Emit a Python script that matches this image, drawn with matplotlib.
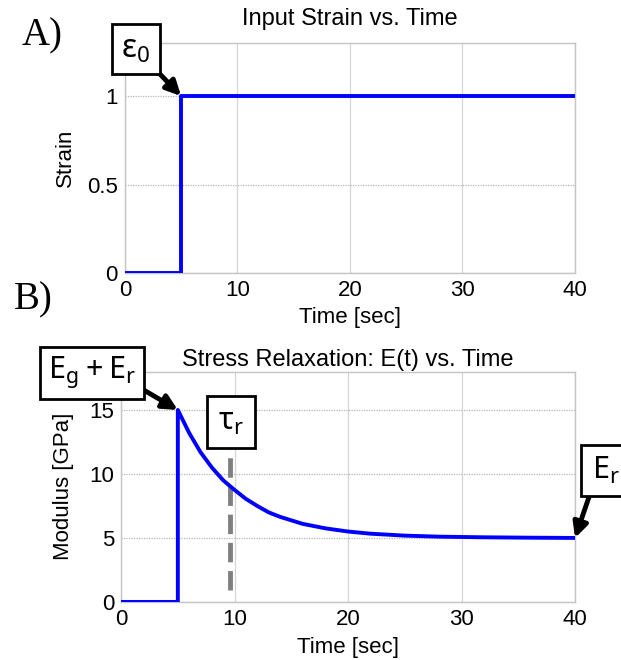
import numpy as np
import matplotlib
matplotlib.use('Agg')
import matplotlib.pyplot as plt
from matplotlib.patches import Rectangle

# input strain step
strain_time = [0, 5, 5, 40]
strain_vals = [0, 0, 1, 1]

# stress relaxation curve
mod_time = [0, 5, 5, 6, 7, 8, 9, 10, 11, 12, 13, 14, 16, 18, 20, 22, 25, 28, 32, 36, 40]
mod_vals = [0, 0, 15.0, 13.2, 11.7, 10.5, 9.5, 8.75, 8.05, 7.5, 7.0, 6.65, 6.1, 5.75, 5.5, 5.33, 5.18, 5.1, 5.05, 5.02, 5.0]

tau_x = 9.6
tau_span = [0.9, 12.0]

x_ticks = [0, 10, 20, 30, 40]
strain_ticks = [0, 0.5, 1]
mod_ticks = [0, 5, 10, 15]

plt.rcParams['font.family'] = ['Liberation Sans', 'DejaVu Sans']
FS = 16
BOX_FONT = ['Noto Sans', 'DejaVu Sans']
W, H = 621, 660


def style_axes(ax, yticks, ylim):
    ax.set_xlim(0, 40)
    ax.set_ylim(*ylim)
    ax.set_xticks(x_ticks)
    ax.set_yticks(yticks)
    ax.set_yticklabels([('%g' % v) for v in yticks])
    ax.tick_params(length=0, labelsize=FS, pad=5)
    ax.grid(axis='x', color='#d6d6d6', lw=0.9, ls='-')
    ax.grid(axis='y', color='#b8b8b8', lw=0.9, ls=(0, (1, 1)))
    ax.set_axisbelow(True)
    for s in ax.spines.values():
        s.set_color('#c4c4c4')
        s.set_linewidth(1.0)


def label_box(text, x0, y0, x1, y1, size):
    # box given in picture pixels, origin top-left
    fx, fy = x0 / W, 1 - y1 / H
    fig.add_artist(Rectangle((fx, fy), (x1 - x0) / W, (y1 - y0) / H,
                             transform=fig.transFigure, fc='white', ec='black',
                             lw=2, zorder=10, clip_on=False))
    fig.text((x0 + x1) / 2 / W, 1 - (y0 + y1) / 2 / H, text, ha='center',
             va='center', fontsize=size, family=BOX_FONT, zorder=11)


def arrow(ax, xy, start):
    ax.annotate('', xy=xy, xycoords='data',
                xytext=(start[0] / W, 1 - start[1] / H), textcoords='figure fraction',
                arrowprops=dict(arrowstyle='-|>', color='k', lw=3.5, mutation_scale=22,
                                shrinkA=0, shrinkB=0),
                annotation_clip=False, zorder=9)


fig = plt.figure(figsize=(W / 100, H / 100), dpi=100)

# panel A
ax1 = fig.add_axes([0.201, 0.586, 0.725, 0.349])
ax1.plot(strain_time, strain_vals, color='#0000ff', lw=2.8, zorder=3)
style_axes(ax1, strain_ticks, (0, 1.3))
ax1.set_title('Input Strain vs. Time', fontsize=17, pad=13)
ax1.set_xlabel('Time [sec]', fontsize=FS, labelpad=4)
ax1.set_ylabel('Strain', fontsize=FS, labelpad=8)
arrow(ax1, (5, 1), (157, 71))
label_box(r'$\mathregular{ε_0}$', 112, 24, 160, 74, 23)

# panel B
ax2 = fig.add_axes([0.195, 0.088, 0.731, 0.349])
ax2.plot(mod_time, mod_vals, color='#0000ff', lw=2.8, zorder=3)
ax2.plot([tau_x, tau_x], tau_span, color='#808080', lw=3.5, ls=(0, (4, 1.8)), zorder=2)
style_axes(ax2, mod_ticks, (0, 18))
ax2.set_title('Stress Relaxation: E(t) vs. Time', fontsize=17, pad=4)
ax2.set_xlabel('Time [sec]', fontsize=FS, labelpad=5)
ax2.set_ylabel('Modulus [GPa]', fontsize=FS, labelpad=11)
arrow(ax2, (5, 15), (142, 389))
label_box(r'$\mathregular{E_g + E_r}$', 40, 347, 144, 399, 22)
label_box(r'$\mathregular{τ_r}$', 207, 396, 255, 448, 22)
arrow(ax2, (40, 5), (590, 494))
label_box(r'$\mathregular{E_r}$', 581, 445, 630, 496, 22)

fig.text(0.035, 0.945, 'A)', family='Liberation Serif', fontsize=28, va='center')
fig.text(0.022, 0.545, 'B)', family='Liberation Serif', fontsize=28, va='center')

fig.savefig('out.png', dpi=100)
